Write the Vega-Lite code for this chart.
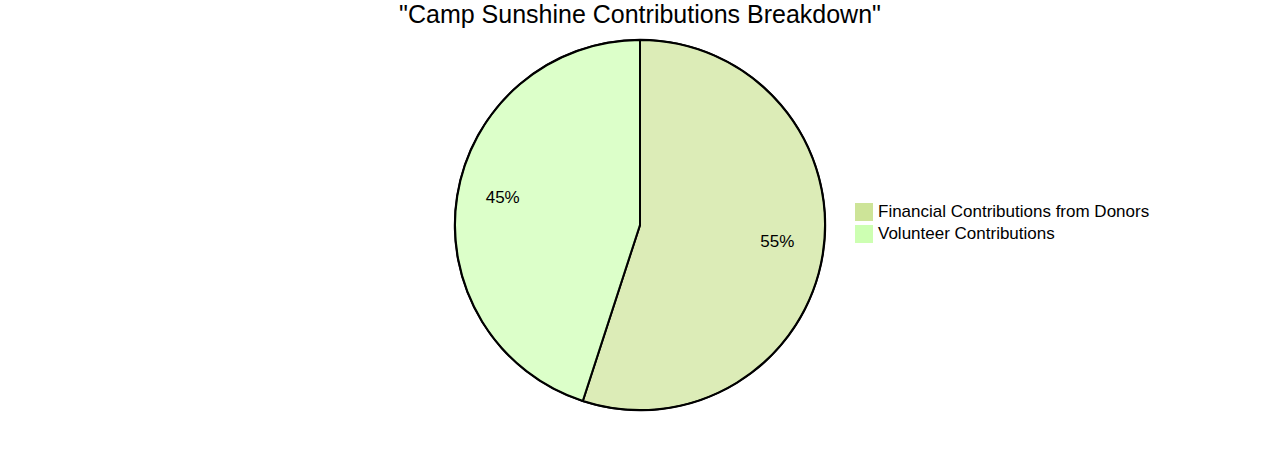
{
  "$schema": "https://vega.github.io/schema/vega-lite/v6.json",
  "width": 1280,
  "height": 450,
  "autosize": "none",
  "padding": 0,
  "background": "white",
  "title": {
    "text": "\"Camp Sunshine Contributions Breakdown\"",
    "font": "Liberation Sans",
    "fontSize": 25,
    "fontWeight": "normal",
    "color": "black",
    "anchor": "middle",
    "offset": -28
  },
  "data": {
    "values": [
      {"source": "Financial Contributions from Donors", "share": 55, "label": "55%", "idx": 1},
      {"source": "Volunteer Contributions", "share": 45, "label": "45%", "idx": 2}
    ]
  },
  "encoding": {
    "theta": {"field": "share", "type": "quantitative", "stack": true},
    "order": {"field": "idx", "type": "quantitative"}
  },
  "layer": [
    {
      "mark": {"type": "arc", "outerRadius": 185, "stroke": "black", "strokeWidth": 2, "fillOpacity": 0.7},
      "encoding": {
        "color": {
          "field": "source",
          "type": "nominal",
          "sort": ["Financial Contributions from Donors", "Volunteer Contributions"],
          "scale": {"range": ["#cde498", "#cdffb2"]},
          "legend": {
            "title": null,
            "orient": "none",
            "legendX": 855,
            "legendY": 203,
            "symbolType": "square",
            "symbolSize": 324,
            "symbolOpacity": 1,
            "symbolStrokeWidth": 0,
            "labelFont": "Liberation Sans",
            "labelFontSize": 17,
            "labelColor": "black",
            "labelOffset": 5,
            "labelLimit": 400,
            "rowPadding": 4
          }
        }
      }
    },
    {
      "mark": {"type": "arc", "innerRadius": 184.5, "outerRadius": 186.2, "fill": "black", "strokeWidth": 0},
      "encoding": {}
    },
    {
      "mark": {"type": "text", "radius": 139, "dy": -5, "font": "Liberation Sans", "fontSize": 17, "color": "black"},
      "encoding": {
        "text": {"field": "label", "type": "nominal"}
      }
    }
  ]
}
